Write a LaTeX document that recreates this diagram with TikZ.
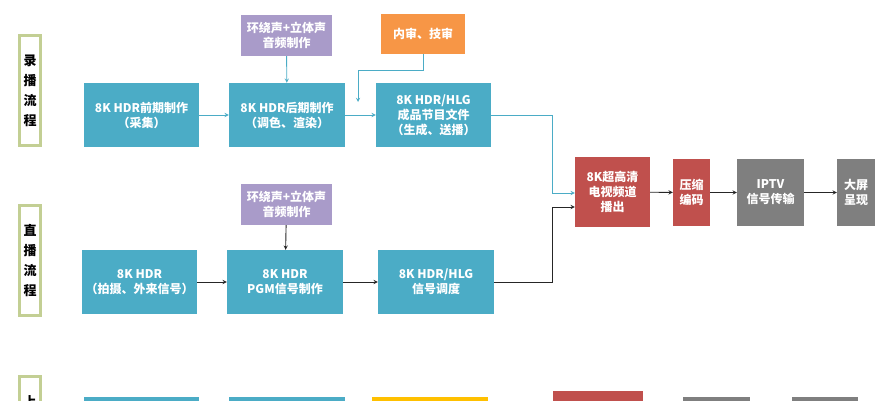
\documentclass[tikz,border=0pt]{standalone}
\usepackage{fontspec}
\setmainfont{Noto Sans CJK SC}
\usetikzlibrary{positioning}
\definecolor{tealbox}{HTML}{4BACC6}
\definecolor{purplebox}{HTML}{A99BC9}
\definecolor{orangebox}{HTML}{F79646}
\definecolor{redbox}{HTML}{C0504D}
\definecolor{graybox}{HTML}{7F7F7F}
\definecolor{yellowbox}{HTML}{FFC000}
\definecolor{olivebox}{HTML}{C3CF94}
\tikzset{
  box/.style={inner sep=0pt, align=center, text=white,
    font=\fontsize{12}{15}\selectfont\bfseries},
  tealnode/.style={box, fill=tealbox},
  purplenode/.style={box, fill=purplebox},
  orangenode/.style={box, fill=orangebox},
  rednode/.style={box, fill=redbox},
  graynode/.style={box, fill=graybox},
  lanenode/.style={draw=olivebox, line width=3pt, fill=white, inner sep=0pt,
    align=center, font=\fontsize{13}{20}\selectfont\bfseries,
    minimum width=21, minimum height=110},
  tealline/.style={draw=tealbox, line width=0.9pt, ->, >=stealth},
  darkline/.style={draw=black!85, line width=0.9pt, ->, >=stealth}
}
\begin{document}
\begin{tikzpicture}[x=1pt,y=-1pt]
\useasboundingbox (0,0) rectangle (896,400);
\clip (0,0) rectangle (896,400);
% lanes
\node[lanenode] (lrec) at (30,90.5) {录\\播\\流\\程};
\node[lanenode] (llive) at (30,260.5) {直\\播\\流\\程};
\node[lanenode, anchor=north] (lthird) at (30,375) {上\\\\\\};
% recorded row
\node[tealnode, minimum width=115, minimum height=64] (rec1) at (141.5,115) {8K HDR前期制作\\（采集）};
\node[tealnode, minimum width=116, minimum height=64] (rec2) at (287,115) {8K HDR后期制作\\（调色、渲染）};
\node[tealnode, minimum width=115, minimum height=64] (rec3) at (433.5,115) {8K HDR/HLG\\成品节目文件\\（生成、送播）};
\node[purplenode, minimum width=91, minimum height=41] (audio1) at (286.5,35.5) {环绕声+立体声\\音频制作};
\node[orangenode, minimum width=84, minimum height=40] (review) at (423,34) {内审、技审};
% live row
\node[tealnode, minimum width=115, minimum height=64] (live1) at (139.5,282) {8K HDR\\（拍摄、外来信号）};
\node[tealnode, minimum width=116, minimum height=64] (live2) at (285,282) {8K HDR\\PGM信号制作};
\node[tealnode, minimum width=116, minimum height=64] (live3) at (436,282) {8K HDR/HLG\\信号调度};
\node[purplenode, minimum width=91, minimum height=41] (audio2) at (286.5,204.5) {环绕声+立体声\\音频制作};
% output chain
\node[rednode, minimum width=75, minimum height=70] (play) at (612.5,192) {8K超高清\\电视频道\\播出};
\node[rednode, minimum width=37, minimum height=67] (enc) at (691.5,192.5) {压缩\\编码};
\node[graynode, minimum width=67, minimum height=67] (iptv) at (770.5,192.5) {IPTV\\信号传输};
\node[graynode, minimum width=38, minimum height=67] (screen) at (856,192.5) {大屏\\呈现};
% third row (cut off)
\fill[tealbox] (84,397) rectangle (199,420);
\fill[tealbox] (229,397) rectangle (345,420);
\fill[yellowbox] (372,397) rectangle (488,420);
\fill[redbox] (553,391) rectangle (643,420);
\fill[graybox] (683,397) rectangle (750,420);
\fill[graybox] (792,397) rectangle (858,420);
% connectors
\draw[tealline] (rec1) -- (rec2);
\draw[tealline] (rec2) -- (rec3);
\draw[tealline] (audio1) -- (rec2);
\draw[tealline] (review.south) -- ++(0,16) -| (358,102);
\draw[tealline] (rec3.east) -- (552,115) |- ([yshift=-1]play.west);
\draw[darkline] (live1) -- (live2);
\draw[darkline] (live2) -- (live3);
\draw[darkline] (audio2) -- (live2);
\draw[darkline] (live3.east) -- (552,282) |- ([yshift=-15]play.west);
\draw[darkline] (play) -- (enc);
\draw[darkline] (enc) -- (iptv);
\draw[darkline] (iptv) -- (screen);
\end{tikzpicture}
\end{document}
